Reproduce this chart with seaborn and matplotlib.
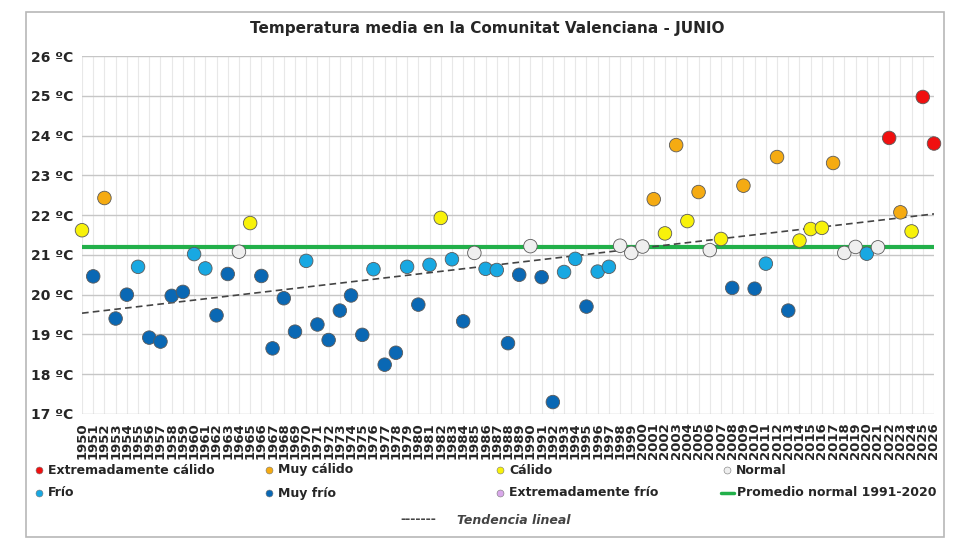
import matplotlib.pyplot as plt
import pandas as pd
import seaborn as sns
from matplotlib.lines import Line2D
from matplotlib.patches import Rectangle

# June mean temperature, Comunitat Valenciana
years = list(range(1950, 2027))
temps = [
    21.62, 20.46, 22.43, 19.40, 20.00, 20.70, 18.92, 18.82, 19.97, 20.07,
    21.02, 20.66, 19.48, 20.52, 21.08, 21.80, 20.47, 18.65, 19.91, 19.07,
    20.85, 19.25, 18.86, 19.60, 19.98, 18.99, 20.64, 18.24, 18.54, 20.70,
    19.75, 20.75, 21.93, 20.89, 19.33, 21.05, 20.65, 20.62, 18.78, 20.50,
    21.22, 20.44, 17.30, 20.57, 20.90, 19.70, 20.58, 20.70, 21.23, 21.05,
    21.21, 22.40, 21.54, 23.76, 21.85, 22.58, 21.12, 21.40, 20.17, 22.74,
    20.15, 20.78, 23.46, 19.60, 21.36, 21.65, 21.68, 23.31, 21.05, 21.20,
    21.03, 21.19, 23.94, 22.07, 21.59, 24.97, 23.80,
]
cats = [
    "C", "MF", "MC", "MF", "MF", "F", "MF", "MF", "MF", "MF",
    "F", "F", "MF", "MF", "N", "C", "MF", "MF", "MF", "MF",
    "F", "MF", "MF", "MF", "MF", "MF", "F", "MF", "MF", "F",
    "MF", "F", "C", "F", "MF", "N", "F", "F", "MF", "MF",
    "N", "MF", "MF", "F", "F", "MF", "F", "F", "N", "N",
    "N", "MC", "C", "MC", "C", "MC", "N", "C", "MF", "MC",
    "MF", "F", "MC", "MF", "C", "C", "C", "MC", "N", "N",
    "F", "N", "EC", "MC", "C", "EC", "EC",
]
normal_1991_2020 = 21.2

cat_labels = {
    "EC": "Extremadamente cálido",
    "MC": "Muy cálido",
    "C": "Cálido",
    "N": "Normal",
    "F": "Frío",
    "MF": "Muy frío",
    "EF": "Extremadamente frío",
}
cat_colors = {
    "EC": "#f01010",
    "MC": "#f5ab12",
    "C": "#f8f20a",
    "N": "#efefef",
    "F": "#18a8e2",
    "MF": "#0a68b4",
    "EF": "#d9a8ea",
}

df = pd.DataFrame({"year": years, "temp": temps, "cat": cats})

sns.set_theme(style="white")
plt.rcParams["font.family"] = ["DejaVu Sans"]

W, H = 955, 544
fig = plt.figure(figsize=(W / 100, H / 100), dpi=100)
ax = fig.add_axes([82 / W, 1 - 414 / H, (934 - 82) / W, (414 - 56) / H])

ax.axhline(normal_1991_2020, color="#22b04a", lw=3, zorder=2)
sns.regplot(
    data=df, x="year", y="temp", scatter=False, ci=None, truncate=True,
    color="#444444", line_kws=dict(ls=(0, (4, 2.5)), lw=1.2, zorder=2.5), ax=ax,
)
sns.scatterplot(
    data=df, x="year", y="temp", hue="cat", palette=cat_colors, s=95,
    edgecolor="#5a5a5a", linewidth=0.6, legend=False, ax=ax, zorder=3,
    clip_on=False,
)

ax.set_xlim(1950, 2026)
ax.set_ylim(17, 26)
ax.set_xlabel("")
ax.set_ylabel("")
ax.set_xticks(years)
ax.set_xticklabels([str(y) for y in years], rotation=90, fontsize=9.5,
                   fontweight="bold")
ax.set_yticks(range(17, 27))
ax.set_yticklabels([f"{t} ºC" for t in range(17, 27)], fontsize=10,
                   fontweight="bold")
ax.grid(axis="x", color="#e8e8e8", lw=0.8)
ax.grid(axis="y", color="#c6c6c6", lw=1)
ax.set_axisbelow(True)
for s in ax.spines.values():
    s.set_visible(False)
ax.tick_params(axis="both", length=4, width=0.8, color="#b5b5b5", pad=2)

fig.text(487 / W, 1 - 28 / H, "Temperatura media en la Comunitat Valenciana - JUNIO",
         ha="center", va="center", fontsize=11, fontweight="bold")

# legend, laid out like the original
rows = [
    [("EC", 39), ("MC", 269), ("C", 500), ("N", 727)],
    [("F", 39), ("MF", 269), ("EF", 500)],
]
for r, row in enumerate(rows):
    y = 1 - (470 + 23 * r) / H
    for key, x in row:
        fig.add_artist(Line2D([x / W], [y], marker="o", ms=5, color=cat_colors[key],
                              mec="#777777", mew=0.4, transform=fig.transFigure))
        fig.text((x + 9) / W, y, cat_labels[key], ha="left", va="center",
                 fontsize=9, fontweight="bold")
y2 = 1 - 493 / H
fig.add_artist(Line2D([721 / W, 734 / W], [y2, y2], color="#22b04a", lw=2.5,
                      transform=fig.transFigure))
fig.text(737 / W, y2, "Promedio normal 1991-2020", ha="left", va="center",
         fontsize=9, fontweight="bold")
y3 = 1 - 520 / H
fig.text(400 / W, y3, "-------", ha="left", va="center", fontsize=9,
         fontweight="bold", color="#444444")
fig.text(457 / W, y3, "Tendencia lineal", ha="left", va="center", fontsize=9,
         fontweight="bold", fontstyle="italic", color="#444444")

fig.add_artist(Rectangle((26 / W, 1 - 537 / H), (944 - 26) / W, (537 - 12) / H,
                         transform=fig.transFigure, fill=False, ec="#b8b8b8", lw=1.2))

fig.savefig("out.png", dpi=100)
